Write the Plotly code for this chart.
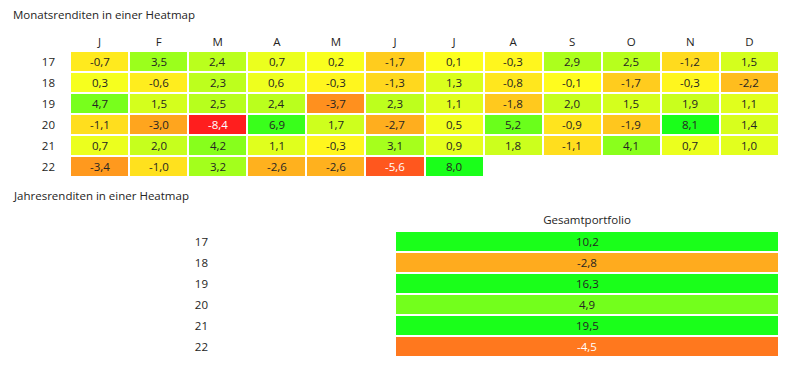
import plotly.graph_objects as go

months = ["J", "F", "M", "A", "M", "J", "J", "A", "S", "O", "N", "D"]
years = ["17", "18", "19", "20", "21", "22"]

r17 = [-0.7, 3.5, 2.4, 0.7, 0.2, -1.7, 0.1, -0.3, 2.9, 2.5, -1.2, 1.5]
r18 = [0.3, -0.6, 2.3, 0.6, -0.3, -1.3, 1.3, -0.8, -0.1, -1.7, -0.3, -2.2]
r19 = [4.7, 1.5, 2.5, 2.4, -3.7, 2.3, 1.1, -1.8, 2.0, 1.5, 1.9, 1.1]
r20 = [-1.1, -3.0, -8.4, 6.9, 1.7, -2.7, 0.5, 5.2, -0.9, -1.9, 8.1, 1.4]
r21 = [0.7, 2.0, 4.2, 1.1, -0.3, 3.1, 0.9, 1.8, -1.1, 4.1, 0.7, 1.0]
r22 = [-3.4, -1.0, 3.2, -2.6, -2.6, -5.6, 8.0, None, None, None, None, None]

annual_label = ["Gesamtportfolio"]
annual = [10.2, -2.8, 16.3, 4.9, 19.5, -4.5]

monthly = [r17, r18, r19, r20, r21, r22]

scale = [[0.0, "#ff1e1e"], [0.484, "#ffff1e"], [1.0, "#1aff1a"]]
ZMIN, ZMAX = -7.5, 8.0
FONT = "Open Sans"
TXT = "#252423"
FS = 11.5

W, H, OFF = 790, 391, 8
def px(x):
    return (x - OFF) / W
def py(y):
    return 1 - (y - OFF) / H

def fmt(v):
    return f"{v:.1f}".replace(".", ",")

fig = go.Figure()
fig.add_trace(go.Heatmap(
    z=monthly, x=list(range(12)), y=years, colorscale=scale, zmin=ZMIN, zmax=ZMAX,
    showscale=False, xgap=2, ygap=2, hoverinfo="skip", xaxis="x", yaxis="y"))
fig.add_trace(go.Heatmap(
    z=[[v] for v in annual], x=annual_label, y=years, colorscale=scale, zmin=ZMIN, zmax=ZMAX,
    showscale=False, xgap=2, ygap=2, hoverinfo="skip", xaxis="x2", yaxis="y2"))

ann = []
for yi, row in enumerate(monthly):
    for xi, v in enumerate(row):
        if v is None:
            continue
        ann.append(dict(x=xi, y=yi, xref="x", yref="y", text=fmt(v), showarrow=False,
                        font=dict(family=FONT, size=FS, color="white" if v <= -4.5 else TXT)))
for yi, v in enumerate(annual):
    ann.append(dict(x=0, y=yi, xref="x2", yref="y2", text=fmt(v), showarrow=False,
                    font=dict(family=FONT, size=FS, color="white" if v <= -4.5 else TXT)))

ann.append(dict(x=px(11), y=py(15), xref="paper", yref="paper", xanchor="left", yanchor="middle",
                text="Monatsrenditen in einer Heatmap", showarrow=False, font=dict(family=FONT, size=FS, color=TXT)))
ann.append(dict(x=px(11), y=py(195), xref="paper", yref="paper", xanchor="left", yanchor="middle",
                text="Jahresrenditen in einer Heatmap", showarrow=False, font=dict(family=FONT, size=FS, color=TXT)))

axfont = dict(family=FONT, size=FS, color=TXT)
fig.update_layout(
    width=W, height=H, margin=dict(l=0, r=0, t=0, b=0),
    paper_bgcolor="white", plot_bgcolor="white", annotations=ann,
    xaxis=dict(domain=[px(70), px(779)], side="top", tickvals=list(range(12)), ticktext=months,
               range=[-0.5, 11.5], showgrid=False, zeroline=False, showline=False, ticks="", tickfont=axfont,
               ticklabelstandoff=2, anchor="y"),
    yaxis=dict(domain=[py(177), py(51)], type="category", range=[5.5, -0.5],
               showgrid=False, zeroline=False, ticks="", tickfont=axfont, ticklabelstandoff=14, anchor="x"),
    xaxis2=dict(domain=[px(395), px(779)], side="top", type="category", range=[-0.5, 0.5],
                showgrid=False, zeroline=False, ticks="", tickfont=axfont, ticklabelstandoff=4, anchor="y2"),
    yaxis2=dict(domain=[py(357), py(231)], type="category", range=[5.5, -0.5],
                showgrid=False, zeroline=False, ticks="", tickfont=axfont, ticklabelstandoff=186, anchor="x2"),
)

fig.write_html("out.html")
